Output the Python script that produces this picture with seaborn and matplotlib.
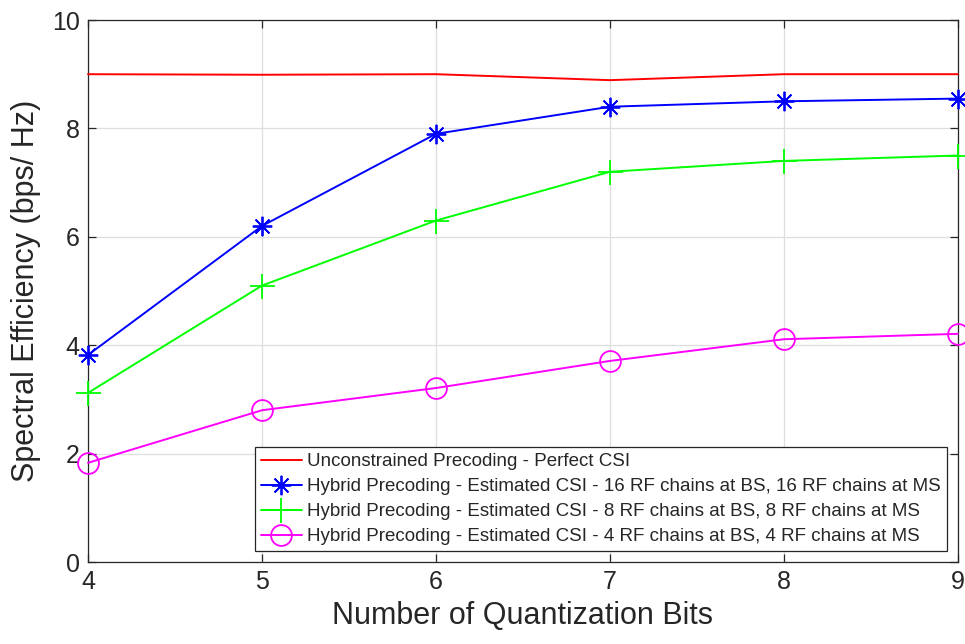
import numpy as np
import pandas as pd
import matplotlib
matplotlib.use('Agg')
import matplotlib.pyplot as plt
import seaborn as sns

# data
bits = [4, 5, 6, 7, 8, 9]
unconstrained = [9.0, 8.99, 9.0, 8.89, 9.0, 9.0]
hybrid_16 = [3.82, 6.2, 7.9, 8.4, 8.5, 8.55]
hybrid_8 = [3.12, 5.1, 6.3, 7.2, 7.4, 7.5]
hybrid_4 = [1.83, 2.8, 3.21, 3.71, 4.11, 4.21]

labels = [
    'Unconstrained Precoding - Perfect CSI',
    'Hybrid Precoding - Estimated CSI - 16 RF chains at BS, 16 RF chains at MS',
    'Hybrid Precoding - Estimated CSI - 8 RF chains at BS, 8 RF chains at MS',
    'Hybrid Precoding - Estimated CSI - 4 RF chains at BS, 4 RF chains at MS',
]

sns.set_style('whitegrid')
plt.rcParams['font.family'] = ['Liberation Sans Narrow', 'Liberation Sans', 'DejaVu Sans']

fig = plt.figure(figsize=(9.65, 6.44), dpi=100)
ax = fig.add_axes([88 / 965, 1 - 562 / 644, (958 - 88) / 965, (562 - 20) / 644])

colors = ['#ff0000', '#0000ff', '#00ff00', '#ff00ff']
styles = [
    dict(marker=None),
    dict(marker=(8, 2, 0), markersize=14, markeredgewidth=1.3),
    dict(marker='+', markersize=18, markeredgewidth=1.3),
    dict(marker='o', markersize=15, markerfacecolor='none', markeredgewidth=1.3),
]
series = [unconstrained, hybrid_16, hybrid_8, hybrid_4]

for vals, lab, c, st in zip(series, labels, colors, styles):
    df = pd.DataFrame({'bits': bits, 'se': vals})
    sns.lineplot(data=df, x='bits', y='se', ax=ax, label=lab, linewidth=1.4,
                 color=c, markeredgecolor=c, clip_on=False, zorder=3, **st)

ax.set_xlim(4, 9)
ax.set_ylim(0, 10)
ax.set_xticks(bits)
ax.set_yticks([0, 2, 4, 6, 8, 10])
ax.grid(True, color='#dedede', linewidth=0.9)
for s in ax.spines.values():
    s.set_color('#262626')
    s.set_linewidth(0.9)
ax.tick_params(axis='both', direction='in', length=6, width=0.9, colors='#262626',
               labelsize=18, top=True, right=True, bottom=True, left=True, pad=6)
ax.set_xlabel('Number of Quantization Bits', fontsize=22, color='#262626', labelpad=5)
ax.set_ylabel('Spectral Efficiency (bps/ Hz)', fontsize=22, color='#262626', labelpad=8)

leg = ax.legend(loc='lower right', fontsize=13.5, frameon=True, fancybox=False,
                borderpad=0.3, labelspacing=0.42, handlelength=2.2, handletextpad=0.3,
                borderaxespad=0.6)
leg.get_frame().set_edgecolor('#262626')
leg.get_frame().set_linewidth(0.9)
leg.get_frame().set_alpha(1)

fig.savefig('out.png', dpi=100, facecolor='white')
